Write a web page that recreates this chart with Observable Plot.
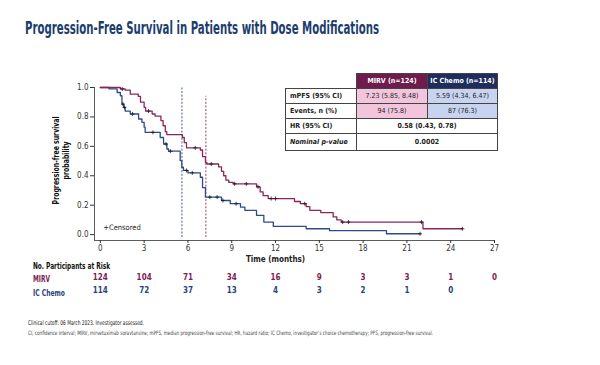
<!DOCTYPE html>
<html><head><meta charset="utf-8">
<script src="https://cdn.jsdelivr.net/npm/d3@7"></script>
<script src="https://cdn.jsdelivr.net/npm/@observablehq/plot@0.6"></script>
<style>
body{margin:0;background:#fff;}
#wrap{position:relative;width:600px;height:365px;overflow:hidden;font-family:"Liberation Sans Narrow","Arial Narrow","DejaVu Sans Condensed","Roboto Condensed","Liberation Sans",Arial,sans-serif;}
.abs{position:absolute;white-space:nowrap;line-height:1;}
#plot{position:absolute;left:0;top:0;}
#tbl{position:absolute;left:285px;top:73px;border-collapse:collapse;table-layout:fixed;width:212px;font-size:7px;}
#tbl td{height:14px;padding:0;border:0.8px solid #444;text-align:center;color:#222;}
#tbl td.lab{text-align:left;padding-left:4px;font-weight:bold;background:#fff;}
#tbl td.empty{border-top:none;border-left:none;}
#tbl td.hm{background:#6e1c4d;color:#fff;font-weight:bold;}
#tbl td.hc{background:#1f2d5c;color:#fff;font-weight:bold;}
#tbl td.pm{background:#f3c5dd;}
#tbl td.pc{background:#c7d3ef;}
#tbl td.v{font-weight:bold;background:#fff;}
</style></head><body>
<div id="wrap"><div id="plot"></div></div>
<script>
// ---- data ----
const xTicks = [0, 3, 6, 9, 12, 15, 18, 21, 24, 27];
const yTicks = [0, 0.2, 0.4, 0.6, 0.8, 1.0];
const mirvTimes = [0, 1.37, 1.7, 2.05, 2.6, 2.75, 3.0, 3.1, 3.55, 3.75, 4.15, 4.3, 4.45, 4.55, 5.62, 5.75, 5.9, 6.85, 7.0, 7.2, 7.3, 8.1, 8.3, 8.45, 8.6, 8.8, 9.1, 10.7, 10.95, 11.15, 11.5, 13.3, 13.7, 14.1, 14.35, 15.1, 15.95, 16.2, 16.5, 22.1];
const mirvSurv  = [1.0, 0.99, 0.982, 0.955, 0.94, 0.90, 0.865, 0.84, 0.82, 0.806, 0.775, 0.74, 0.70, 0.68, 0.66, 0.625, 0.59, 0.575, 0.53, 0.49, 0.48, 0.46, 0.43, 0.40, 0.37, 0.355, 0.345, 0.325, 0.29, 0.265, 0.245, 0.225, 0.21, 0.19, 0.165, 0.15, 0.12, 0.10, 0.085, 0.04];
const mirvEnd = 24.8;
const chemoTimes = [0, 0.6, 1.15, 1.37, 1.48, 1.6, 1.7, 2.05, 2.62, 2.85, 3.0, 3.07, 4.1, 4.33, 4.56, 4.67, 5.47, 5.58, 5.69, 6.0, 6.85, 7.0, 7.2, 8.3, 8.9, 9.6, 9.9, 10.7, 11.2, 11.85, 14.1, 15.7, 19.6];
const chemoSurv  = [1.0, 0.99, 0.966, 0.944, 0.887, 0.865, 0.84, 0.82, 0.786, 0.763, 0.73, 0.695, 0.66, 0.616, 0.582, 0.567, 0.503, 0.458, 0.436, 0.42, 0.39, 0.32, 0.255, 0.232, 0.21, 0.187, 0.165, 0.131, 0.085, 0.056, 0.04, 0.027, 0.006];
const chemoEnd = 21.9;
const mirvCensor  = [1.5, 3.3, 6.5, 7.6, 9.2, 10.0, 10.8, 11.7, 12.0, 14.0, 16.6, 17.0, 22.0, 24.8];
const chemoCensor = [1.55, 1.65, 2.2, 3.6, 4.5, 4.8, 5.9, 6.3, 7.5, 8.0, 8.4, 9.3, 21.9];
const medianMirv = 7.23, medianChemo = 5.59;
const riskMirv  = [124, 104, 71, 34, 16, 9, 3, 3, 1, 0];
const riskChemo = [114, 72, 37, 13, 4, 3, 2, 1, 0];
const tableHeader = ["MIRV (n=124)", "IC Chemo (n=114)"];
const tableLabels = ["mPFS (95% CI)", "Events, n (%)", "HR (95% CI)", "Nominal p-value"];
const tableMirv  = ["7.23 (5.85, 8.48)", "94 (75.8)"];
const tableChemo = ["5.59 (4.34, 6.47)", "87 (76.3)"];
const tableBoth  = ["0.58 (0.43, 0.78)", "0.0002"];

// ---- colors ----
const cMirv = "#8a2758", cChemo = "#2c4a8c", cRiskM = "#7e2154", cRiskC = "#2d3f80";
const FONT = '"Liberation Sans Narrow","Arial Narrow","DejaVu Sans Condensed","Roboto Condensed","Liberation Sans",Arial,sans-serif';

function pts(T, S, end) { const p = T.map((t, i) => ({t, s: S[i]})); p.push({t: end, s: S[S.length - 1]}); return p; }
function stepAt(T, S, t) { let s = S[0]; for (let i = 0; i < T.length; i++) if (T[i] <= t) s = S[i]; return s; }
const mirvPts = pts(mirvTimes, mirvSurv, mirvEnd);
const chemoPts = pts(chemoTimes, chemoSurv, chemoEnd);
const censM = mirvCensor.map(t => ({t, s: stepAt(mirvTimes, mirvSurv, t)}));
const censC = chemoCensor.map(t => ({t, s: stepAt(chemoTimes, chemoSurv, t)}));

const chart = Plot.plot({
  width: 600, height: 365,
  marginLeft: 94, marginRight: 106, marginTop: 87, marginBottom: 125,
  style: {fontFamily: FONT, fontSize: "8px", color: "#333", background: "transparent"},
  x: {domain: [-0.4, 27]},
  y: {domain: [-0.04, 1]},
  marks: [
    Plot.ruleY([-0.04], {x1: -0.4, x2: 27, stroke: "#333", strokeWidth: 0.8}),
    Plot.ruleX([-0.4], {y1: -0.04, y2: 1, stroke: "#333", strokeWidth: 0.8}),
    Plot.axisX(xTicks, {tickSize: 3, tickPadding: 1.5, label: null, stroke: "#333", fill: "#333"}),
    Plot.axisY(yTicks, {tickSize: 4, tickPadding: 2, label: null, tickFormat: d => d.toFixed(1), stroke: "#333", fill: "#333"}),
    Plot.ruleX([medianChemo], {y1: -0.02, y2: 1.0, stroke: cChemo, strokeWidth: 0.9, strokeDasharray: "2,1.6"}),
    Plot.ruleX([medianMirv], {y1: -0.02, y2: 0.94, stroke: cMirv, strokeWidth: 0.9, strokeDasharray: "2,1.6"}),
    Plot.line(chemoPts, {x: "t", y: "s", curve: "step-after", stroke: cChemo, strokeWidth: 1.3}),
    Plot.line(mirvPts, {x: "t", y: "s", curve: "step-after", stroke: cMirv, strokeWidth: 1.3}),
    Plot.dot(censC, {x: "t", y: "s", symbol: "plus", r: 1.4, stroke: "#1a1a2a", strokeWidth: 0.8}),
    Plot.dot(censM, {x: "t", y: "s", symbol: "plus", r: 1.4, stroke: "#2a1020", strokeWidth: 0.8}),
    Plot.text(["+Censored"], {x: 0.2, y: 0.045, text: d => d, textAnchor: "start", fontSize: 7.5, fill: "#222"}),
    Plot.text(["Time (months)"], {x: 12, frameAnchor: "bottom", dy: 21, text: d => d, fontWeight: "bold", fontSize: 8, fill: "#222"}),
    Plot.text(riskMirv.map((v, i) => ({t: xTicks[i], v})), {x: "t", text: "v", frameAnchor: "bottom", dy: 39, fill: cRiskM, fontWeight: "bold", fontSize: 8}),
    Plot.text(riskChemo.map((v, i) => ({t: xTicks[i], v})), {x: "t", text: "v", frameAnchor: "bottom", dy: 52.5, fill: cRiskC, fontWeight: "bold", fontSize: 8})
  ]
});
document.getElementById("plot").appendChild(chart);

const wrap = document.getElementById("wrap");
function addText(txt, left, top, css, html) {
  const d = document.createElement("div");
  d.className = "abs";
  if (html) d.innerHTML = txt; else d.textContent = txt;
  d.style.left = left + "px"; d.style.top = top + "px";
  Object.assign(d.style, css || {});
  wrap.appendChild(d);
  return d;
}
function fitW(el, w) {
  const cw = el.getBoundingClientRect().width;
  if (cw > 0) { el.style.transformOrigin = "left center"; el.style.transform = `scaleX(${w / cw})`; }
}
const title = addText("Progression-Free Survival in Patients with Dose Modifications", 25, 20, {fontSize: "17px", fontWeight: "bold", color: "#1c3d6e"});
fitW(title, 354);
fitW(addText("No. Participants at Risk", 33, 262, {fontSize: "8.5px", fontWeight: "bold", color: "#111"}), 77);
fitW(addText("MIRV", 33, 275, {fontSize: "8.5px", fontWeight: "bold", color: cRiskM}), 17);
fitW(addText("IC Chemo", 33, 288.5, {fontSize: "8.5px", fontWeight: "bold", color: cRiskC}), 32);
const yl = addText("Progression-free survival<br>probability", 0, 0, {fontSize: "8px", fontWeight: "bold", color: "#111", textAlign: "center", lineHeight: "1.3"}, true);
{
  const r = yl.getBoundingClientRect();
  yl.style.left = (62 - r.width / 2) + "px";
  yl.style.top = (160 - r.height / 2) + "px";
  yl.style.transform = `rotate(-90deg) scaleX(${88 / r.width})`;
}
const f1 = addText("Clinical cutoff: 06 March 2023. Investigator assessed.", 28, 320, {fontSize: "6.5px", color: "#222"});
fitW(f1, 116);
const f2 = addText("CI, confidence interval; MIRV, mirvetuximab soravtansine; mPFS, median progression-free survival; HR, hazard ratio; IC Chemo, investigator’s choice chemotherapy; PFS, progression-free survival.", 28, 329.5, {fontSize: "6px", color: "#444"});
fitW(f2, 405);

// table
const tbl = document.createElement("table");
tbl.id = "tbl";
let h = `<colgroup><col style="width:71px"><col style="width:71px"><col style="width:70px"></colgroup>`;
h += `<tr><td class="empty"></td><td class="hm">${tableHeader[0]}</td><td class="hc">${tableHeader[1]}</td></tr>`;
for (let i = 0; i < 2; i++) h += `<tr><td class="lab">${tableLabels[i]}</td><td class="pm">${tableMirv[i]}</td><td class="pc">${tableChemo[i]}</td></tr>`;
h += `<tr><td class="lab">${tableLabels[2]}</td><td class="v" colspan="2">${tableBoth[0]}</td></tr>`;
h += `<tr><td class="lab" style="height:16px"><i>${tableLabels[3]}</i></td><td class="v" colspan="2">${tableBoth[1]}</td></tr>`;
tbl.innerHTML = h;
wrap.appendChild(tbl);
</script>
</body></html>
